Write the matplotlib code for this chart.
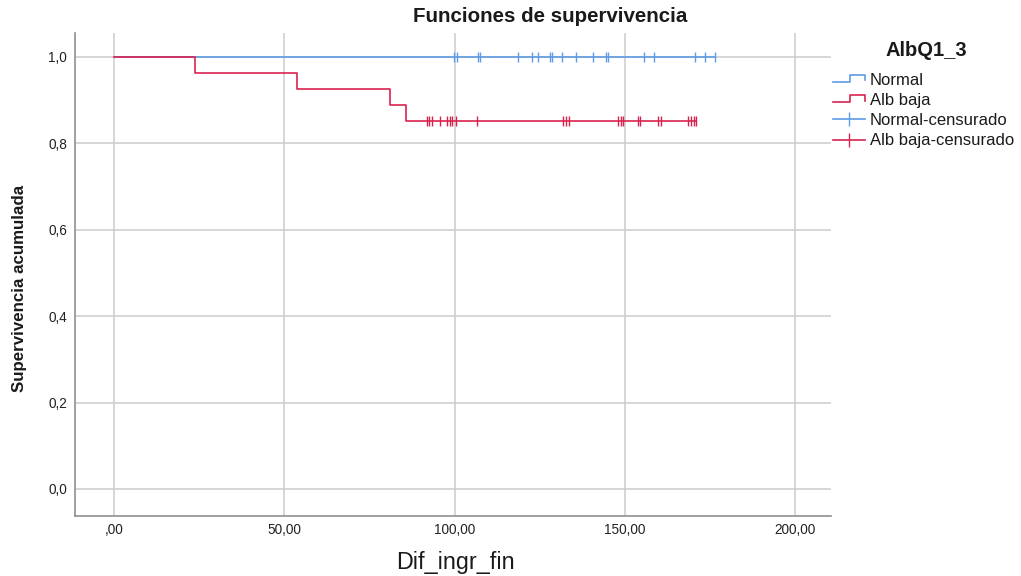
import numpy as np
import matplotlib
matplotlib.use("Agg")
import matplotlib.pyplot as plt
from matplotlib.lines import Line2D
from matplotlib.legend_handler import HandlerBase

plt.rcParams['font.family'] = ['Liberation Sans', 'DejaVu Sans']

# Kaplan-Meier steps
normal_t = [0.0]
normal_s = [1.0]
normal_end = 176.6
normal_cens = [99.9, 100.6, 106.8, 107.5, 118.7, 122.7, 124.4, 127.9, 128.6,
               131.7, 135.6, 140.6, 144.5, 145.2, 155.7, 158.7, 170.6, 173.6, 176.6]

baja_t = [0.0, 23.9, 53.8, 80.9, 85.8]
baja_s = [1.0, 0.963, 0.926, 0.889, 0.852]
baja_end = 171.0
baja_cens = [91.9, 92.6, 93.4, 95.7, 97.9, 98.6, 99.3, 100.3, 106.6,
             132.0, 132.8, 133.6, 148.0, 148.8, 149.6, 153.8, 154.6,
             159.8, 160.6, 168.7, 169.5, 170.3, 171.0]

xticks = [0, 50, 100, 150, 200]
xtick_labels = [',00', '50,00', '100,00', '150,00', '200,00']
yticks = [0.0, 0.2, 0.4, 0.6, 0.8, 1.0]
ytick_labels = ['0,0', '0,2', '0,4', '0,6', '0,8', '1,0']

BLUE = '#5f9be6'
RED = '#d9234f'


def level_at(ts, ss, t):
    idx = np.searchsorted(ts, t, side='right') - 1
    return np.asarray(ss)[idx]


class StepHandler(HandlerBase):
    def create_artists(self, legend, orig_handle, xdescent, ydescent,
                       width, height, fontsize, trans):
        x0 = -xdescent
        y0 = -ydescent
        xs = [x0, x0 + 0.55 * width, x0 + 0.55 * width, x0 + width, x0 + width]
        ys = [y0 + 0.25 * height, y0 + 0.25 * height, y0 + 0.9 * height,
              y0 + 0.9 * height, y0 + 0.4 * height]
        ln = Line2D(xs, ys, color=orig_handle.get_color(), lw=1.2, transform=trans)
        return [ln]


fig = plt.figure(figsize=(10.21, 5.76), dpi=100)
ax = fig.add_axes([75.3 / 1021, 1 - 516 / 576, (830.7 - 75.3) / 1021, (516 - 32.7) / 576])

# survival steps
ax.step(normal_t + [normal_end], normal_s + [normal_s[-1]], where='post',
        color=BLUE, lw=1.2, zorder=3)
ax.step(baja_t + [baja_end], baja_s + [baja_s[-1]], where='post',
        color=RED, lw=1.2, zorder=4)

# censor marks
ax.plot(normal_cens, level_at(normal_t, normal_s, normal_cens), ls='none',
        marker='|', ms=7, mew=1.0, color=BLUE, zorder=3)
ax.plot(baja_cens, level_at(baja_t, baja_s, baja_cens), ls='none',
        marker='|', ms=7, mew=1.0, color=RED, zorder=4)

ax.set_xlim(-11.4, 210.5)
ax.set_ylim(-0.0625, 1.056)
ax.set_xticks(xticks)
ax.set_xticklabels(xtick_labels)
ax.set_yticks(yticks)
ax.set_yticklabels(ytick_labels)
ax.tick_params(length=0, labelsize=9.8, labelcolor='#222222')
ax.tick_params(axis='x', pad=5)
ax.tick_params(axis='y', pad=6)
ax.grid(True, color='#cfcfcf', lw=1.2)
ax.set_axisbelow(True)
for side in ['top', 'right']:
    ax.spines[side].set_visible(False)
for side in ['left', 'bottom']:
    ax.spines[side].set_color('#8f8f8f')
    ax.spines[side].set_linewidth(1.2)

fig.text(550 / 1021, 1 - 17 / 576, 'Funciones de supervivencia', ha='center',
         va='center', fontsize=14.8, fontweight='bold', color='#1a1a1a')
fig.text(455 / 1021, 1 - 562 / 576, 'Dif_ingr_fin', ha='center', va='center',
         fontsize=16.8, color='#1a1a1a')
fig.text(20 / 1021, 1 - 288 / 576, 'Supervivencia acumulada', ha='center',
         va='center', rotation=90, fontsize=12.2, fontweight='bold', color='#1a1a1a')
fig.text(926 / 1021, 1 - 50 / 576, 'AlbQ1_3', ha='center', va='center',
         fontsize=14.5, fontweight='bold', color='#1a1a1a')

h_normal = Line2D([], [], color=BLUE)
h_baja = Line2D([], [], color=RED)
h_normal_c = Line2D([], [], color=BLUE, lw=1.2, marker='|', ms=10, mew=1.0)
h_baja_c = Line2D([], [], color=RED, lw=1.2, marker='|', ms=10, mew=1.0)
leg = fig.legend([h_normal, h_baja, h_normal_c, h_baja_c],
                 ['Normal', 'Alb baja', 'Normal-censurado', 'Alb baja-censurado'],
                 handler_map={h_normal: StepHandler(), h_baja: StepHandler()},
                 loc='upper left', bbox_to_anchor=(833 / 1021, 1 - 73 / 576),
                 frameon=False, fontsize=12,
                 handlelength=1.9, handletextpad=0.3, labelspacing=0.31,
                 borderpad=0, borderaxespad=0)
for t in leg.get_texts():
    t.set_color('#1a1a1a')

fig.savefig('out.png', dpi=100)
